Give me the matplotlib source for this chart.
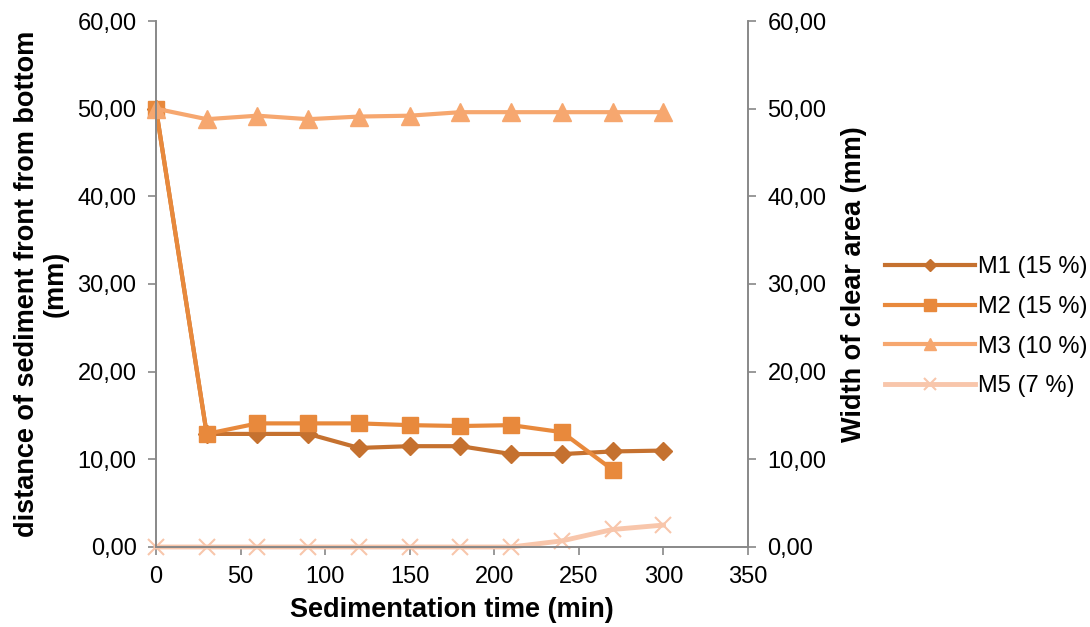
import matplotlib.pyplot as plt
from matplotlib.ticker import FuncFormatter

plt.rcParams['font.family'] = ['Liberation Sans', 'DejaVu Sans']

time_min = [0, 30, 60, 90, 120, 150, 180, 210, 240, 270, 300]
m1 = [50.0, 12.9, 12.9, 12.9, 11.3, 11.5, 11.5, 10.6, 10.6, 10.9, 11.0]
m2 = [50.0, 12.9, 14.1, 14.1, 14.1, 13.9, 13.8, 13.9, 13.1, 8.8]
m3 = [50.0, 48.8, 49.2, 48.8, 49.1, 49.2, 49.6, 49.6, 49.6, 49.6, 49.6]
m5 = [0.0, 0.0, 0.0, 0.0, 0.0, 0.0, 0.0, 0.0, 0.7, 2.0, 2.5]
labels = ['M1 (15 %)', 'M2 (15 %)', 'M3 (10 %)', 'M5 (7 %)']
colors = ['#C5712F', '#E8893C', '#F6A76F', '#F8C6AB']

fig = plt.figure(figsize=(10.9, 6.27), dpi=100)
ax = fig.add_axes([0.1431, 0.1276, 0.5432, 0.8389])

ax.plot(time_min, m1, color=colors[0], lw=3, marker='D', ms=9, label=labels[0])
ax.plot(time_min[:len(m2)], m2, color=colors[1], lw=3, marker='s', ms=12, label=labels[1])
ax.plot(time_min, m3, color=colors[2], lw=3, marker='^', ms=13, label=labels[2])
ax.plot(time_min, m5, color=colors[3], lw=3.5, marker='x', ms=12, mew=1.5, label=labels[3])

comma = FuncFormatter(lambda v, p: f'{v:.2f}'.replace('.', ','))

ax.set_xlim(0, 350)
ax.set_ylim(0, 60)
ax.set_xticks(range(0, 351, 50))
ax.set_yticks(range(0, 61, 10))
ax.yaxis.set_major_formatter(comma)

ax2 = ax.twinx()
ax2.set_ylim(0, 60)
ax2.set_yticks(range(0, 61, 10))
ax2.yaxis.set_major_formatter(comma)

gray = '#888888'
for a in (ax, ax2):
    for s in a.spines.values():
        s.set_color(gray)
        s.set_linewidth(1.2)
    a.spines['top'].set_visible(False)
    a.tick_params(colors=gray, labelcolor='black', labelsize=17, length=6, width=1.2, pad=8)
ax.tick_params(axis='x', pad=8)
for ln in ax.lines:
    ln.set_clip_on(False)

ax.set_xlabel('Sedimentation time (min)', fontsize=19.5, fontweight='bold', labelpad=6)
ax.set_ylabel('distance of sediment front from bottom\n(mm)', fontsize=19.5,
              fontweight='bold', labelpad=6, linespacing=1.15)
ax2.set_ylabel('Width of clear area (mm)', fontsize=19.5, fontweight='bold', labelpad=10)

fig.legend(loc='center left', bbox_to_anchor=(0.812, 0.479), frameon=False,
           fontsize=17, handlelength=3.8, handletextpad=0.15, labelspacing=0.75,
           borderpad=0, borderaxespad=0, markerscale=0.7)

plt.savefig('out.png', dpi=100)
